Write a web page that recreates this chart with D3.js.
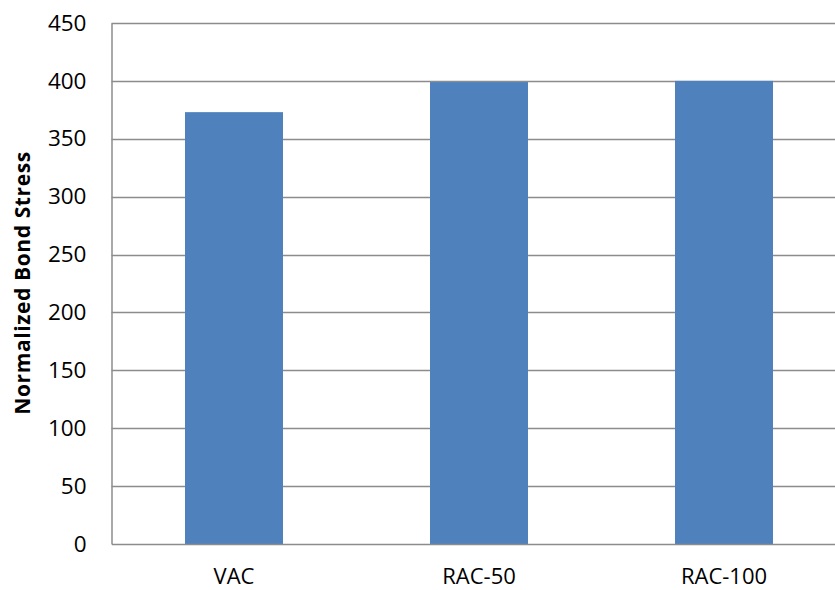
<!DOCTYPE html>
<html>
<head>
<meta charset="utf-8">
<script src="https://cdn.jsdelivr.net/npm/d3@7"></script>
<style>
  html, body { margin: 0; padding: 0; background: #fff; }
  svg { display: block; font-family: "Open Sans", Lato, sans-serif; }
</style>
</head>
<body>
<svg id="chart" width="835" height="590"></svg>
<script>
// Bond stress per concrete mix
const categories = ["VAC", "RAC-50", "RAC-100"];
const values = [373, 399, 400];
const yTicks = [0, 50, 100, 150, 200, 250, 300, 350, 400, 450];
const yTitle = "Normalized Bond Stress";

const fontFamily = "'Open Sans', Lato, sans-serif";
const svg = d3.select("#chart");
const margin = { left: 111.5, top: 23, bottom: 544 };
const plotRight = 846.5;

const x = d3.scaleBand()
  .domain(categories)
  .range([margin.left, plotRight])
  .paddingInner(0.6)
  .paddingOuter(0.3);

const y = d3.scaleLinear()
  .domain([0, 450])
  .range([margin.bottom, margin.top]);

// horizontal gridlines
svg.append("g")
  .selectAll("line")
  .data(yTicks.filter(d => d > 0))
  .join("line")
  .attr("x1", margin.left)
  .attr("x2", plotRight)
  .attr("y1", d => Math.round(y(d)) + 0.5)
  .attr("y2", d => Math.round(y(d)) + 0.5)
  .attr("stroke", "#8c8c8c")
  .attr("stroke-width", 1.5);

// bars
svg.append("g")
  .selectAll("rect")
  .data(values)
  .join("rect")
  .attr("x", (d, i) => x(categories[i]))
  .attr("width", x.bandwidth())
  .attr("y", d => y(d))
  .attr("height", d => y(0) - y(d))
  .attr("fill", "#4f81bd");

// y axis
const yAxis = d3.axisLeft(y).tickValues(yTicks).tickSize(0).tickPadding(25);
const gy = svg.append("g")
  .attr("transform", `translate(${margin.left},0)`)
  .call(yAxis);
gy.select(".domain").attr("stroke", "#8c8c8c").attr("stroke-width", 1.5);
gy.selectAll("text")
  .attr("font-size", 22.5)
  .attr("fill", "#000")
  .attr("font-family", fontFamily);

// x axis
const xAxis = d3.axisBottom(x).tickSize(0).tickPadding(24);
const gx = svg.append("g")
  .attr("transform", `translate(0,${margin.bottom})`)
  .call(xAxis);
gx.select(".domain").attr("stroke", "#8c8c8c").attr("stroke-width", 1.5);
gx.selectAll("text")
  .attr("font-size", 22)
  .attr("fill", "#000")
  .attr("font-family", fontFamily);

// y axis title
svg.append("text")
  .attr("transform", `translate(30,${(152 + 414) / 2}) rotate(-90)`)
  .attr("text-anchor", "middle")
  .attr("font-size", 21)
  .attr("font-weight", "bold")
  .attr("letter-spacing", 0.6)
  .attr("fill", "#000")
  .attr("font-family", fontFamily)
  .text(yTitle);
</script>
</body>
</html>
